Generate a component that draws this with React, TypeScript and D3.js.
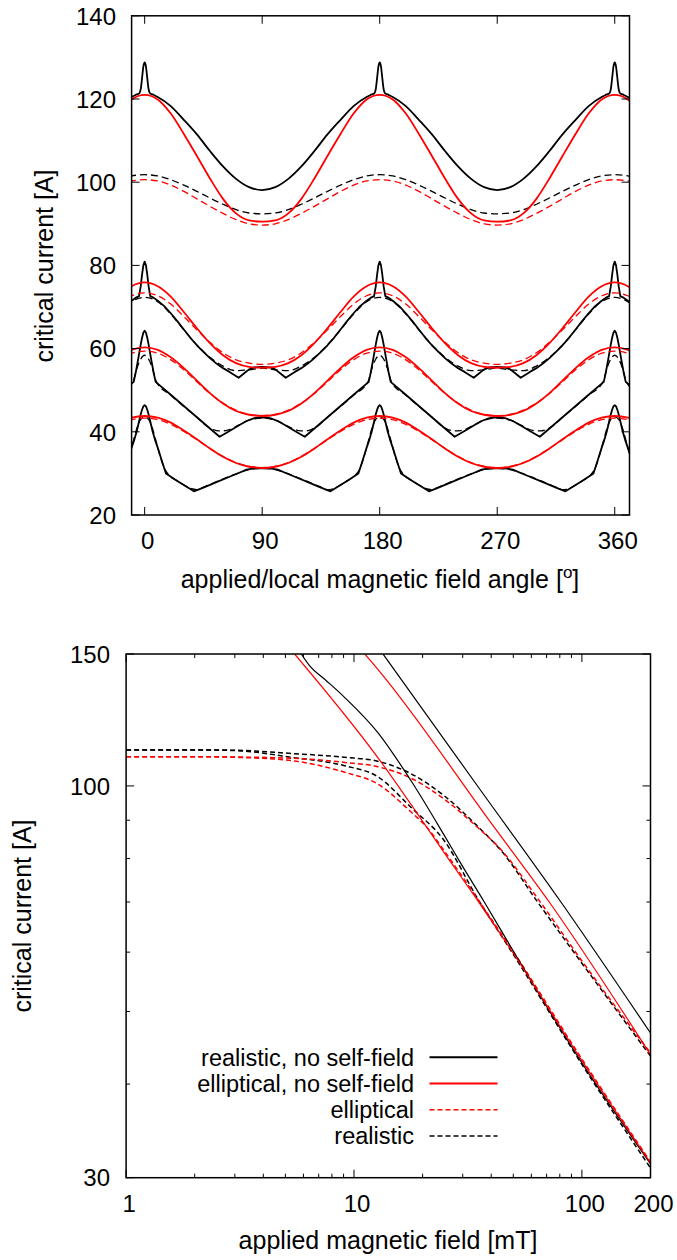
import React from "react";
import * as d3 from "d3";

type P = [number, number];

// ---------- top chart: critical current vs angle (half period 0..90 deg) ----------
const angleTicks = [0, 90, 180, 270, 360];
const currentTicksTop = [20, 40, 60, 80, 100, 120, 140];

const aBlackSolid: P[] = [[0,128.8],[1,127.8],[2,125],[3,122.4],[4,121.4],[6,121.1],[10,120.5],[20,118.3],[30,115.0],[40,111.5],[50,107.5],[60,103.8],[70,100.8],[80,98.8],[90,98.1]];
const aRedSolid: P[] = [[0,121.0],[10,119.9],[20,116.5],[30,111.6],[40,106.3],[50,100.9],[60,96.0],[70,92.5],[80,90.8],[90,90.5]];
const aBlackDashed: P[] = [[0,101.8],[10,101.5],[20,100.6],[30,99.3],[40,97.8],[50,96.2],[60,94.7],[70,93.4],[80,92.6],[90,92.4]];
const aRedDashed: P[] = [[0,100.6],[10,100.3],[20,99.3],[30,97.8],[40,96.0],[50,94.2],[60,92.5],[70,91.0],[80,90.0],[90,89.7]];

const bBlackSolid: P[] = [[0,80.9],[1,80.0],[2,77.8],[3,75.0],[4.3,72.6],[7,72.2],[10,71.5],[15,70.2],[20,68.5],[25,66.6],[30,64.6],[35,62.6],[40,60.8],[45,59.2],[50,57.7],[55,56.4],[60,55.3],[65,54.4],[72,53.0],[76,54.0],[80,55.0],[84,55.5],[90,55.6]];
const bRedSolid: P[] = [[0,75.9],[10,75.0],[20,72.5],[30,68.8],[40,64.9],[50,61.3],[60,58.4],[70,56.5],[80,55.6],[90,55.4]];
const bRedDashed: P[] = [[0,73.4],[10,72.7],[20,70.7],[30,67.7],[40,64.5],[50,61.5],[60,59.0],[70,57.3],[80,56.5],[90,56.2]];
const bBlackDashed: P[] = [[0,72.3],[10,71.3],[20,68.3],[30,64.5],[40,60.9],[50,57.9],[60,55.8],[70,54.7],[80,54.9],[90,55.3]];

const cBlackSolid: P[] = [[0,64.3],[1,63.8],[2,62.6],[3,61.0],[4,59.2],[5,57.4],[6,55.7],[7,54.0],[8.4,52.0],[20,48.9],[30,46.2],[40,43.5],[50,40.8],[57.4,38.8],[65,40.2],[72,41.5],[78,42.6],[84,43.3],[90,43.5]];
const cRedSolid: P[] = [[0,60.3],[10,59.7],[20,57.9],[30,55.3],[40,52.3],[50,49.3],[60,46.8],[70,45.0],[80,44.1],[90,43.8]];
const cRedDashed: P[] = [[0,59.4],[10,58.9],[20,57.3],[30,54.9],[40,52.0],[50,49.2],[60,46.9],[70,45.2],[80,44.2],[90,43.9]];
const cBlackDashed: P[] = [[0,58.4],[3,57.5],[6,55.2],[9,52.0],[20,48.8],[30,46.1],[40,43.5],[47,41.5],[52,40.6],[57,40.2],[62,40.3],[67,40.8],[72,41.6],[80,42.8],[90,43.3]];

const dBlackSolid: P[] = [[0,46.4],[1,46.1],[2,45.3],[3,44.2],[4,42.9],[6,40.2],[8,38.0],[10,36.2],[12,34.2],[14,32.2],[16.3,30.0],[25,28.2],[30,27.2],[37.7,25.7],[45,26.6],[55,27.9],[65,29.2],[72,30.1],[78,30.9],[84,31.2],[90,31.3]];
const dRedSolid: P[] = [[0,43.8],[10,43.4],[20,42.2],[30,40.3],[40,38.2],[50,36.0],[60,34.0],[70,32.5],[80,31.6],[90,31.3]];
const dRedDashed: P[] = [[0,43.3],[10,42.9],[20,41.8],[30,40.1],[40,38.1],[50,36.0],[60,34.1],[70,32.6],[80,31.7],[90,31.4]];
const dBlackDashed: P[] = [[0,43.6],[3,43.0],[6,40.8],[9,37.4],[12,34.0],[15,31.3],[18,29.8],[25,28.2],[30,27.2],[35,26.4],[40,26.1],[45,26.7],[55,28.0],[65,29.3],[72,30.1],[80,30.9],[90,31.2]];

// ---------- bottom chart: critical current vs applied field ----------
const fieldTickLabels = [1, 10, 100, 200];
const fieldMinorTicks = [2,3,4,5,6,7,8,9,20,30,40,50,60,70,80,90];
const currentTicksBottom = [30, 100, 150];
const currentMinorBottom = [40, 50, 60, 70, 80, 90];

const realisticNoSF1: P[] = [[5.87,150],[6.38,144.7],[7.5,138.5],[9.09,131.3],[12.7,117.9],[17.8,101.6],[24.9,85.9],[29.5,78.7],[37.3,70.0],[50,60.2],[100,42.7],[200,31.3]];
const ellipticalNoSF1: P[] = [[5.49,150],[12.7,109.2],[21,87.8],[24.9,81.4],[34.9,70.3],[50,59.8],[100,43.0],[200,31.4]];
const realisticNoSF2: P[] = [[13.4,150],[34.9,99.9],[80.9,70.0],[200,46.8]];
const ellipticalNoSF2: P[] = [[11.15,150],[12.7,143.2],[40,89.2],[71.9,70.0],[200,43.8]];
const elliptical2: P[] = [[1,109.4],[2,109.4],[3,109.3],[5.3,108.9],[9.1,107.5],[12.7,106.1],[17.8,102.4],[24.9,96.0],[34.9,88.0],[44.2,82.2],[63.9,70.8],[100,58.4],[200,44.0]];
const realistic2: P[] = [[1,111.7],[2,111.7],[3,111.6],[5.3,110.5],[9.1,109.2],[12.7,107.9],[17.8,103.8],[24.9,97.0],[34.9,88.3],[44.2,82.0],[63.9,70.0],[100,58.0],[200,43.6]];
const elliptical1: P[] = [[1,109.4],[2,109.4],[3,109.2],[5.3,108.1],[9.1,104.3],[12.7,100.6],[17.8,92.3],[21,87.9],[24.9,81.9],[34.9,70.6],[50,60.1],[100,43.2],[200,31.5]];
const realistic1: P[] = [[1,111.7],[2,111.7],[3,111.5],[5.3,109.2],[9.1,106.4],[12.7,102.9],[17.8,93.6],[24.9,84.5],[34.9,70.7],[50,59.6],[100,42.5],[200,30.9]];

const legendLabels = ["realistic, no self-field", "elliptical, no self-field", "elliptical", "realistic"];

const FONT = "'Liberation Sans', Arial, Helvetica, sans-serif";
const RED = "#ff0000";

function tile(half: P[]): P[] {
  const m = new Map<string, P>();
  for (const [a, v] of half) {
    for (const base of [0, 180, 360]) {
      for (const ang of [base + a, base - a]) {
        if (ang < -25 || ang > 385) continue;
        m.set(ang.toFixed(3), [ang, v]);
      }
    }
  }
  return Array.from(m.values()).sort((p, q) => p[0] - q[0]);
}

export default function App() {
  // top scales
  const tl = 131.6, tr = 629.5, tt = 15.8, tb = 515;
  const xA = d3.scaleLinear().domain([-10, 371.3]).range([tl, tr]);
  const yA = d3.scaleLinear().domain([20, 140]).range([tb, tt]);
  const lineSmooth = d3.line<P>().x(d => xA(d[0])).y(d => yA(d[1])).curve(d3.curveMonotoneX);
  const lineLin = d3.line<P>().x(d => xA(d[0])).y(d => yA(d[1]));

  // bottom scales
  const bl = 126.1, br = 650.5, bt = 654, bb = 1177.7;
  const xB = d3.scaleLog().domain([1, 200]).range([bl, br]);
  const yB = d3.scaleLog().domain([30, 150]).range([bb, bt]);
  const lineB = d3.line<P>().x(d => xB(d[0])).y(d => yB(d[1])).curve(d3.curveMonotoneX);

  const topCurves: { d: P[]; color: string; dash?: string; lin?: boolean; w: number }[] = [
    { d: aBlackDashed, color: "#000", dash: "7,4", w: 1.3 },
    { d: aRedDashed, color: RED, dash: "7,4", w: 1.3 },
    { d: aBlackSolid, color: "#000", w: 1.8 },
    { d: aRedSolid, color: RED, w: 1.8 },
    { d: bBlackDashed, color: "#000", dash: "7,4", w: 1.3 },
    { d: bBlackSolid, color: "#000", lin: true, w: 1.8 },
    { d: bRedDashed, color: RED, dash: "7,4", w: 1.3 },
    { d: bRedSolid, color: RED, w: 1.8 },
    { d: cBlackDashed, color: "#000", dash: "7,4", w: 1.3 },
    { d: cBlackSolid, color: "#000", lin: true, w: 1.8 },
    { d: cRedDashed, color: RED, dash: "7,4", w: 1.3 },
    { d: cRedSolid, color: RED, w: 1.8 },
    { d: dBlackDashed, color: "#000", dash: "7,4", w: 1.3 },
    { d: dBlackSolid, color: "#000", lin: true, w: 1.8 },
    { d: dRedDashed, color: RED, dash: "7,4", w: 1.3 },
    { d: dRedSolid, color: RED, w: 1.8 },
  ];

  const bottomCurves: { d: P[]; color: string; dash?: string; w: number }[] = [
    { d: realistic1, color: "#000", dash: "5,3", w: 1.5 },
    { d: realistic2, color: "#000", dash: "5,3", w: 1.5 },
    { d: elliptical1, color: RED, dash: "5,3", w: 1.5 },
    { d: elliptical2, color: RED, dash: "5,3", w: 1.5 },
    { d: realisticNoSF1, color: "#000", w: 1.2 },
    { d: realisticNoSF2, color: "#000", w: 1.2 },
    { d: ellipticalNoSF1, color: RED, w: 1.2 },
    { d: ellipticalNoSF2, color: RED, w: 1.2 },
  ];

  const legendStyles = [
    { color: "#000", dash: undefined as string | undefined, w: 2 },
    { color: RED, dash: undefined as string | undefined, w: 2 },
    { color: RED, dash: "5,3", w: 1.5 },
    { color: "#000", dash: "5,3", w: 1.5 },
  ];

  const fs = 24;

  return (
    <svg width={677} height={1260} style={{ position: "absolute", left: 0, top: 0, display: "block" }}
      fontFamily={FONT} fontSize={fs}>
      <defs>
        <clipPath id="clipTop"><rect x={tl} y={tt} width={tr - tl} height={tb - tt} /></clipPath>
        <clipPath id="clipBot"><rect x={bl} y={bt} width={br - bl} height={bb - bt} /></clipPath>
      </defs>
      <rect width={677} height={1260} fill="#fff" />

      {/* ---------- TOP CHART ---------- */}
      <g clipPath="url(#clipTop)">
        {topCurves.map((c, i) => (
          <path key={i} d={(c.lin ? lineLin : lineSmooth)(tile(c.d)) || ""} fill="none"
            stroke={c.color} strokeWidth={c.w} strokeDasharray={c.dash} strokeLinejoin="round" />
        ))}
      </g>
      <g stroke="#000" strokeWidth={1}>
        {angleTicks.map(t => (
          <g key={t}>
            <line x1={xA(t)} x2={xA(t)} y1={tb} y2={tb - 8} />
            <line x1={xA(t)} x2={xA(t)} y1={tt} y2={tt + 8} />
          </g>
        ))}
        {currentTicksTop.map(t => (
          <g key={t}>
            <line x1={tl} x2={tl + 8} y1={yA(t)} y2={yA(t)} />
            <line x1={tr} x2={tr - 8} y1={yA(t)} y2={yA(t)} />
          </g>
        ))}
      </g>
      <rect x={tl} y={tt} width={tr - tl} height={tb - tt} fill="none" stroke="#000" strokeWidth={1.5} />
      {angleTicks.map(t => (
        <text key={t} x={xA(t) + 3} y={549} textAnchor="middle">{t}</text>
      ))}
      {currentTicksTop.map(t => (
        <text key={t} x={116} y={yA(t) + 8.7} textAnchor="end">{t}</text>
      ))}
      <text x={380} y={588} textAnchor="middle" fontSize={25}>
        applied/local magnetic field angle [<tspan dy={-10} fontSize={17}>o</tspan><tspan dy={10}>]</tspan>
      </text>
      <text transform={`translate(53,266) rotate(-90)`} textAnchor="middle" fontSize={25}>critical current [A]</text>

      {/* ---------- BOTTOM CHART ---------- */}
      <g clipPath="url(#clipBot)">
        {bottomCurves.map((c, i) => (
          <path key={i} d={lineB(c.d) || ""} fill="none" stroke={c.color} strokeWidth={c.w}
            strokeDasharray={c.dash} />
        ))}
      </g>
      <g stroke="#000" strokeWidth={1}>
        {fieldTickLabels.map(t => (
          <g key={t}>
            <line x1={xB(t)} x2={xB(t)} y1={bb} y2={bb - 8} />
            <line x1={xB(t)} x2={xB(t)} y1={bt} y2={bt + 8} />
          </g>
        ))}
        {fieldMinorTicks.map(t => (
          <g key={t}>
            <line x1={xB(t)} x2={xB(t)} y1={bb} y2={bb - 4} />
            <line x1={xB(t)} x2={xB(t)} y1={bt} y2={bt + 4} />
          </g>
        ))}
        {currentTicksBottom.map(t => (
          <g key={t}>
            <line x1={bl} x2={bl + 8} y1={yB(t)} y2={yB(t)} />
            <line x1={br} x2={br - 8} y1={yB(t)} y2={yB(t)} />
          </g>
        ))}
        {currentMinorBottom.map(t => (
          <g key={t}>
            <line x1={bl} x2={bl + 4} y1={yB(t)} y2={yB(t)} />
            <line x1={br} x2={br - 4} y1={yB(t)} y2={yB(t)} />
          </g>
        ))}
      </g>
      <rect x={bl} y={bt} width={br - bl} height={bb - bt} fill="none" stroke="#000" strokeWidth={1.5} />
      {fieldTickLabels.map(t => (
        <text key={t} x={xB(t) + 3} y={1211.5} textAnchor="middle">{t}</text>
      ))}
      {currentTicksBottom.map(t => (
        <text key={t} x={110} y={yB(t) + 8.7} textAnchor="end">{t}</text>
      ))}
      <text x={388} y={1249} textAnchor="middle" fontSize={25}>applied magnetic field [mT]</text>
      <text transform={`translate(31,916) rotate(-90)`} textAnchor="middle" fontSize={25}>critical current [A]</text>

      {/* legend */}
      {legendLabels.map((lab, i) => {
        const y = 1057.2 + i * 26.3;
        const s = legendStyles[i];
        return (
          <g key={lab}>
            <text x={414} y={y + 8.3} textAnchor="end" fontSize={23.5}>{lab}</text>
            <line x1={429.5} x2={497.5} y1={y} y2={y} stroke={s.color} strokeWidth={s.w} strokeDasharray={s.dash} />
          </g>
        );
      })}
    </svg>
  );
}
